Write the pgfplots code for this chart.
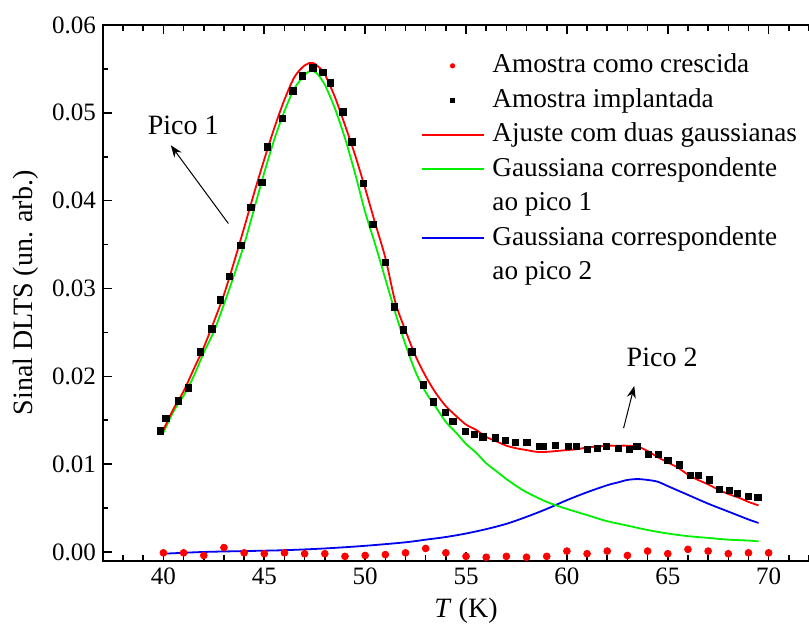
\documentclass[border=0pt]{standalone}
\usepackage{pgfplots}
\pgfplotsset{compat=1.18}
\usepackage{fontspec}
\setmainfont{Liberation Serif}
\usetikzlibrary{arrows.meta}

\pgfplotstableread{
x y
39.84 0.01378
40.13 0.0152
40.74 0.0172
41.24 0.0187
41.82 0.0228
42.40 0.0254
42.81 0.0287
43.26 0.0314
43.84 0.0349
44.33 0.0392
44.88 0.0421
45.16 0.0461
45.90 0.0494
46.42 0.0525
46.88 0.0542
47.41 0.0551
47.90 0.0546
48.27 0.0534
48.89 0.0501
49.34 0.0467
49.92 0.0420
50.38 0.0373
50.99 0.0330
51.45 0.0279
51.90 0.0253
52.32 0.0228
52.89 0.0190
53.39 0.0171
53.97 0.0159
54.35 0.0149
54.96 0.0137
55.40 0.0134
55.84 0.0131
56.45 0.0130
56.94 0.0127
57.44 0.0125
58.02 0.0125
58.64 0.0120
58.81 0.0120
59.42 0.0121
60.08 0.0120
60.46 0.0120
61.02 0.0117
61.52 0.0118
61.95 0.0120
62.56 0.0118
63.09 0.0117
63.47 0.0120
64.05 0.0111
64.54 0.0111
65.01 0.0104
65.58 0.0099
66.11 0.0087
66.52 0.0087
67.07 0.0082
67.57 0.0071
68.06 0.0070
68.46 0.0067
69.00 0.0063
69.47 0.0062
}\implantada

\pgfplotstableread{
x y
40 -0.0001
41 -0.0001
42 -0.0004
43 0.0005
44 -0.0001
45 -0.0002
46 -0.0001
47 -0.0002
48 -0.0002
49 -0.0005
50 -0.0004
51 -0.0003
52 -0.0001
53 0.0004
54 -0.0001
55 -0.0005
56 -0.0006
57 -0.0005
58 -0.0006
59 -0.0005
60 0.0001
61 -0.0002
62 0.0001
63 -0.0004
64 0.0001
65 -0.0002
66 0.0003
67 0.0001
68 -0.0002
69 -0.0001
70 -0.0001
}\crescida

\pgfplotstableread{
x y
40.0 0.0139
40.5 0.0163
41.0 0.0183
41.5 0.0208
42.0 0.0233
42.5 0.0262
43.0 0.0293
43.5 0.0330
44.0 0.0369
44.5 0.0409
45.0 0.0447
45.5 0.0483
46.0 0.0515
46.5 0.0541
47.0 0.0554
47.4 0.0557
47.8 0.0550
48.0 0.0544
48.5 0.0518
49.0 0.0486
49.5 0.0452
50.0 0.0414
50.5 0.0374
51.0 0.0335
51.5 0.0284
52.0 0.0252
52.5 0.0223
53.0 0.0200
53.5 0.0181
54.0 0.0166
54.5 0.0155
55.0 0.0145
55.5 0.0139
56.0 0.0131
56.5 0.0126
57.0 0.0121
57.5 0.0118
58.0 0.0116
58.5 0.0114
59.0 0.0114
59.5 0.0115
60.0 0.0116
60.5 0.0117
61.0 0.0119
61.5 0.0120
62.0 0.0121
62.5 0.0121
63.0 0.0121
63.5 0.0120
64.0 0.0115
64.5 0.0108
65.0 0.0102
65.5 0.0096
66.0 0.0088
66.5 0.0082
67.0 0.0077
67.5 0.0071
68.0 0.0066
68.5 0.0062
69.0 0.0057
69.5 0.0053
}\ajuste

\pgfplotstableread{
x y
40.0 0.0136
40.5 0.0160
41.0 0.0178
41.5 0.0200
42.0 0.0227
42.5 0.0251
43.0 0.0282
43.5 0.0315
44.0 0.0350
44.5 0.0391
45.0 0.0432
45.5 0.0470
46.0 0.0502
46.5 0.0528
47.0 0.0543
47.3 0.0548
47.6 0.0545
48.0 0.0532
48.5 0.0505
49.0 0.0471
49.5 0.0431
50.0 0.0387
50.5 0.0350
51.0 0.0311
51.5 0.0272
52.0 0.0236
52.5 0.0205
53.0 0.0182
53.5 0.0165
54.0 0.0148
54.5 0.0136
55.0 0.0123
55.5 0.0113
56.0 0.0101
56.5 0.0092
57.0 0.0083
57.5 0.0075
58.0 0.0068
59.0 0.0057
60.0 0.0049
61.0 0.0042
62.0 0.0035
63.0 0.0030
64.0 0.0025
65.0 0.0021
66.0 0.0018
67.0 0.0016
68.0 0.0014
69.0 0.0013
69.5 0.0012
}\gaussA

\pgfplotstableread{
x y
40 -0.0002
42 0.0000
44 0.0001
46 0.0002
48 0.0004
50 0.0007
52 0.0011
53 0.0014
54 0.0017
55 0.0021
56 0.0026
57 0.0032
58 0.0040
59 0.0049
60 0.0059
61 0.0068
62 0.0076
62.5 0.0079
63 0.0082
63.5 0.0083
64 0.0082
64.5 0.0080
65 0.0075
65.5 0.0070
66 0.0065
67 0.0055
68 0.0046
69 0.0037
69.5 0.0033
}\gaussB

\definecolor{cred}{RGB}{255,0,0}
\definecolor{cgreen}{RGB}{0,240,0}
\definecolor{cblue}{RGB}{0,0,240}

\begin{document}
\begin{tikzpicture}
\begin{axis}[
  scale only axis,
  width=363.06pt, height=267.8pt,
  xmin=37, xmax=73, ymin=-0.001, ymax=0.06,
  xtick={40,45,50,55,60,65,70},
  ytick={0,0.01,0.02,0.03,0.04,0.05,0.06},
  minor xtick={37,38,...,73},
  minor ytick={0.005,0.015,0.025,0.035,0.045,0.055},
  tick align=inside,
  major tick length=4.5pt, minor tick length=2.8pt,
  axis line style={line width=0.9pt},
  every tick/.style={black, line width=0.8pt},
  tick label style={font=\fontsize{12.5}{15}\selectfont},
  /pgf/number format/assume math mode=true,
  yticklabel style={/pgf/number format/.cd, fixed, fixed zerofill, precision=2},
  scaled y ticks=false,
  xlabel={\textit{T} (K)},
  ylabel={Sinal DLTS (un. arb.)},
  label style={font=\fontsize{14}{16}\selectfont},
  legend image code/.code={\draw[mark repeat=2,mark phase=2,#1] plot coordinates {(0pt,0pt) (15.5pt,0pt) (31pt,0pt)};},
  legend style={at={(axis cs:52.73,0.0569)}, anchor=north west, draw=none, fill=none,
    font=\fontsize{13.6}{16}\selectfont, inner sep=0pt,
    nodes={inner sep=0pt, text height=10pt, text depth=3.2pt},
    row sep=4.05pt, column sep=4pt},
  legend cell align=left,
]
\addlegendimage{only marks, mark=*, mark size=1.1pt, cred}
\addlegendentry{Amostra como crescida}
\addlegendimage{only marks, mark=square*, mark size=1.1pt, black}
\addlegendentry{Amostra implantada}
\addlegendimage{cred, line width=0.9pt}
\addlegendentry{Ajuste com duas gaussianas}
\addlegendimage{cgreen, line width=0.9pt}
\addlegendentry{Gaussiana correspondente}
\addlegendimage{empty legend}
\addlegendentry{ao pico 1}
\addlegendimage{cblue, line width=0.9pt}
\addlegendentry{Gaussiana correspondente}
\addlegendimage{empty legend}
\addlegendentry{ao pico 2}

\addplot[forget plot, cblue, line width=0.9pt, smooth] table {\gaussB};
\addplot[forget plot, cgreen, line width=0.9pt, smooth] table {\gaussA};
\addplot[forget plot, cred, line width=0.9pt, smooth] table {\ajuste};
\addplot[forget plot, only marks, mark=square*, mark size=1.6pt, black] table {\implantada};
\addplot[forget plot, only marks, mark=*, mark size=1.7pt, cred] table {\crescida};

\node[font=\fontsize{14}{16}\selectfont] at (axis cs:40.98,0.0486) {Pico 1};
\draw[line width=0.5pt, -{Stealth[length=6pt,width=4.5pt]}] (axis cs:43.22,0.0374) -- (axis cs:40.37,0.0463);
\node[font=\fontsize{14}{16}\selectfont] at (axis cs:64.72,0.0222) {Pico 2};
\draw[line width=0.5pt, -{Stealth[length=6pt,width=4.5pt]}] (axis cs:62.81,0.0141) -- (axis cs:63.34,0.0189);

\coordinate (bbsw) at (axis cs:31.90,-0.00846);
\coordinate (bbne) at (axis cs:72.0,0.06285);
\end{axis}
\pgfresetboundingbox
\useasboundingbox (bbsw) rectangle (bbne);
\end{tikzpicture}
\end{document}
